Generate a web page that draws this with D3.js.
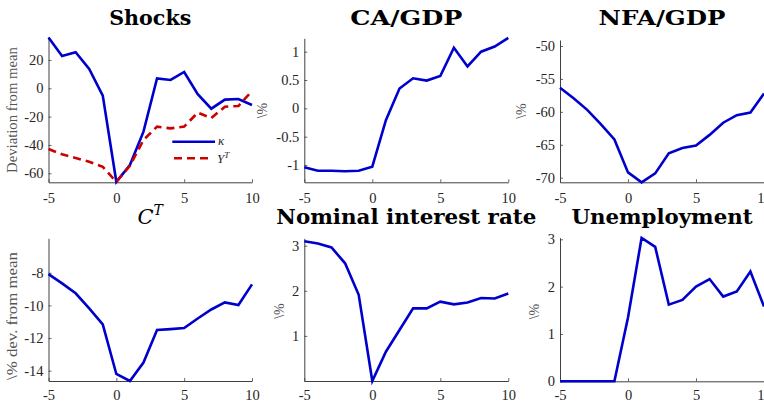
<!DOCTYPE html>
<html>
<head>
<meta charset="utf-8">
<script src="https://cdn.jsdelivr.net/npm/d3@7"></script>
<style>
  html, body { margin: 0; padding: 0; background: #ffffff; }
  svg { display: block; }
</style>
</head>
<body>
<svg id="chart" width="764" height="403"></svg>
<script>
// ---- data ----
const periods = [-5, -4, -3, -2, -1, 0, 1, 2, 3, 4, 5, 6, 7, 8, 9, 10];
const xTicks = [-5, 0, 5, 10];

const kappaShock = [35.8, 22.8, 25.4, 13.6, -5.2, -66.0, -54.2, -30.6, 7.0, 5.9, 11.5, -4.2, -14.4, -8.0, -7.6, -11.8];
const yTShock    = [-42.9, -46.6, -49.2, -51.8, -55.4, -66.0, -54.7, -36.5, -27.1, -28.3, -27.0, -17.2, -21.0, -13.0, -12.5, -1.9];
const caGdp      = [-1.04, -1.10, -1.10, -1.11, -1.10, -1.03, -0.21, 0.35, 0.53, 0.49, 0.57, 1.07, 0.74, 1.00, 1.09, 1.245];
const nfaGdp     = [-56.34, -57.95, -59.7, -61.85, -64.2, -69.2, -70.7, -69.35, -66.3, -65.5, -65.1, -63.5, -61.65, -60.5, -60.1, -57.2];
const cT         = [-8.08, -8.65, -9.26, -10.18, -11.16, -14.2, -14.63, -13.5, -11.5, -11.45, -11.39, -10.8, -10.25, -9.82, -9.98, -8.71];
const nomRate    = [3.10, 3.05, 2.96, 2.61, 1.91, 0.0, 0.65, 1.13, 1.61, 1.61, 1.76, 1.70, 1.74, 1.84, 1.83, 1.94];
const unemp      = [0, 0, 0, 0, 0, 1.35, 3.03, 2.84, 1.62, 1.72, 2.00, 2.16, 1.79, 1.90, 2.32, 1.58];

const yTicksShocks = [-60, -40, -20, 0, 20];
const yTicksCA     = [-1, -0.5, 0, 0.5, 1];
const yTicksNFA    = [-70, -65, -60, -55, -50];
const yTicksCT     = [-14, -12, -10, -8];
const yTicksRate   = [0, 1, 2, 3];
const yTicksUnemp  = [0, 1, 2, 3];

const titles = ["Shocks", "CA/GDP", "NFA/GDP", "C^T", "Nominal interest rate", "Unemployment"];
const yLabels = ["Deviation from mean", "\\%", "\\%", "\\% dev. from mean", "\\%", "\\%"];
const legendLabels = ["κ", "Y^T"];

// ---- layout ----
const svg = d3.select("#chart");
const BLUE = "#0000cc", RED = "#cc0000", AX = "#404040", TXT = "#262626";
const tickFont = "'Liberation Serif', 'Times New Roman', serif";

const panels = [
  { title: titles[0], ylab: yLabels[0], series: [kappaShock, yTShock], yDom: [-66.35, 36.2], yTicks: yTicksShocks,
    l: 48.5, r: 252, t: 37, b: 182.3, tw: 82, ty: 25, labX: 16.5, labY: 110, labLen: 126, pad: 10 },
  { title: titles[1], ylab: yLabels[1], series: [caGdp], yDom: [-1.305, 1.236], yTicks: yTicksCA,
    l: 304.3, r: 508.3, t: 38.3, b: 182.3, tw: 112, ty: 25, labX: 267, labY: 110.5, pad: 10 },
  { title: titles[2], ylab: yLabels[2], series: [nfaGdp], yDom: [-70.7, -49.09], yTicks: yTicksNFA,
    l: 560, r: 764, t: 40, b: 182.3, tw: 127, ty: 25, labX: 526, labY: 111, pad: 10 },
  { title: titles[3], ylab: yLabels[3], series: [cT], yDom: [-14.63, -5.89], yTicks: yTicksCT,
    l: 48.5, r: 252, t: 238.3, b: 381, tw: null, ty: 224, labX: 16.5, labY: 316, labLen: 128, pad: 8.3 },
  { title: titles[4], ylab: yLabels[4], series: [nomRate], yDom: [0, 3.164], yTicks: yTicksRate, hideZero: true,
    l: 304.3, r: 508.3, t: 238.3, b: 381, tw: 260, ty: 224, labX: 284, labY: 311, pad: 8.3 },
  { title: titles[5], ylab: yLabels[5], series: [unemp], yDom: [0, 3.034], yTicks: yTicksUnemp,
    l: 560, r: 764, t: 237.7, b: 381.3, tw: 181, ty: 224, labX: 539, labY: 311.5, pad: 8 }
];

panels.forEach((p, i) => {
  const x = d3.scaleLinear().domain([-5, 10]).range([p.l, p.r]);
  const y = d3.scaleLinear().domain(p.yDom).range([p.b, p.t]);
  const g = svg.append("g");

  // axes
  const xAxis = d3.axisBottom(x).tickValues(xTicks).tickSizeInner(-3).tickSizeOuter(0).tickPadding(p.pad)
    .tickFormat(d => String(d));
  const yAxis = d3.axisLeft(y).tickValues(p.yTicks).tickSizeInner(-3).tickSizeOuter(0).tickPadding(5)
    .tickFormat(d => (p.hideZero && d === 0) ? "" : String(d));

  const gx = g.append("g").attr("transform", `translate(0,${p.b})`).call(xAxis);
  const gy = g.append("g").attr("transform", `translate(${p.l},0)`).call(yAxis);
  [gx, gy].forEach(a => {
    a.select(".domain").attr("stroke", AX).attr("stroke-width", 1);
    a.selectAll(".tick line").attr("stroke", AX).attr("stroke-width", 0.8);
    a.selectAll(".tick text").attr("fill", TXT).style("font-family", tickFont).style("font-size", "14.5px");
  });

  // lines
  const line = d3.line().x((d, k) => x(periods[k])).y(d => y(d));
  p.series.forEach((s, k) => {
    g.append("path").datum(s).attr("d", line)
      .attr("fill", "none")
      .attr("stroke", k === 0 ? BLUE : RED)
      .attr("stroke-width", 2.6)
      .attr("stroke-linejoin", "miter")
      .attr("stroke-dasharray", k === 0 ? null : "8,5");
  });

  // title
  const cx = (p.l + p.r) / 2;
  if (p.title === "C^T") {
    const t = g.append("text").attr("x", cx).attr("y", p.ty).attr("text-anchor", "middle")
      .style("font-family", "'DejaVu Serif', serif").style("font-size", "21px").attr("fill", "#000");
    t.append("tspan").text("C").style("font-style", "italic");
    t.append("tspan").text("T").style("font-style", "italic").style("font-size", "14px").attr("dy", -9);
  } else {
    const t = g.append("text").attr("x", cx).attr("y", p.ty).attr("text-anchor", "middle")
      .style("font-family", "'DejaVu Serif', serif").style("font-weight", "bold").style("font-size", "21px")
      .attr("fill", "#000").text(p.title);
    if (p.tw) t.attr("textLength", p.tw).attr("lengthAdjust", "spacingAndGlyphs");
  }

  // y label
  const yl = g.append("text")
    .attr("transform", `translate(${p.labX},${p.labY}) rotate(-90)`)
    .attr("text-anchor", "middle")
    .style("font-family", tickFont).style("font-size", "14px")
    .attr("fill", "#555").text(p.ylab);
  if (p.labLen) yl.attr("textLength", p.labLen).attr("lengthAdjust", "spacingAndGlyphs");

  // legend for shocks panel
  if (i === 0) {
    const lg = g.append("g");
    lg.append("line").attr("x1", 172.3).attr("x2", 215).attr("y1", 141.7).attr("y2", 141.7)
      .attr("stroke", BLUE).attr("stroke-width", 2.6);
    lg.append("line").attr("x1", 174).attr("x2", 213).attr("y1", 158.3).attr("y2", 158.3)
      .attr("stroke", RED).attr("stroke-width", 2.6).attr("stroke-dasharray", "8,5");
    lg.append("text").attr("x", 218).attr("y", 145).style("font-family", tickFont)
      .style("font-style", "italic").style("font-size", "13px").attr("fill", TXT).text(legendLabels[0]);
    const yt = lg.append("text").attr("x", 217).attr("y", 163).style("font-family", tickFont)
      .style("font-style", "italic").style("font-size", "13px").attr("fill", TXT);
    yt.append("tspan").text("Y");
    yt.append("tspan").text("T").style("font-size", "9px").attr("dy", -5);
  }
});
</script>
</body>
</html>
